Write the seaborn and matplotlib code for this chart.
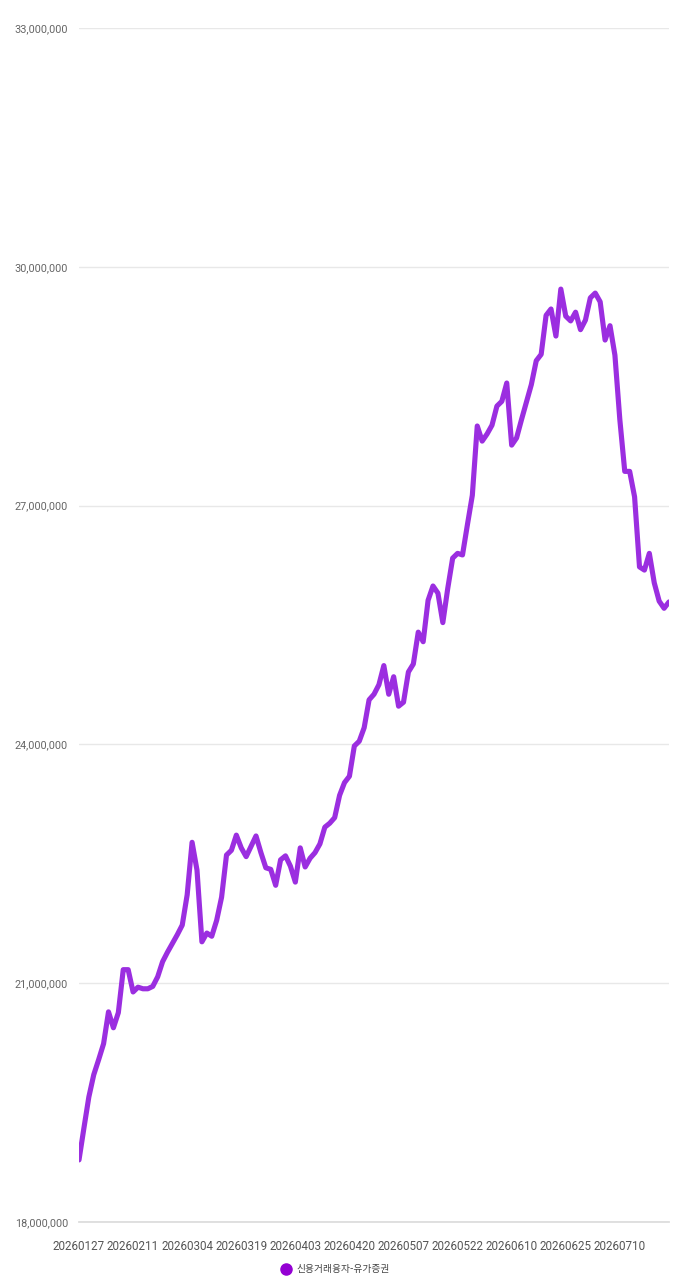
import matplotlib
matplotlib.use("Agg")
import matplotlib.pyplot as plt
from matplotlib.lines import Line2D
from matplotlib.ticker import FuncFormatter
import numpy as np
import pandas as pd
import seaborn as sns

# 신용거래융자-유가증권 잔고 (백만 원 단위로 읽음), 영업일별
series_name = "신용거래융자-유가증권"
balance_m = [
    18.78, 19.18, 19.57, 19.85, 20.04, 20.24, 20.64, 20.44, 20.63, 21.17,
    21.17, 20.89, 20.95, 20.93, 20.93, 20.96, 21.08, 21.27, 21.39, 21.50,
    21.61, 21.73, 22.11, 22.77, 22.42, 21.52, 21.63, 21.59, 21.79, 22.08,
    22.61, 22.67, 22.86, 22.70, 22.59, 22.72, 22.85, 22.64, 22.45, 22.43,
    22.23, 22.55, 22.60, 22.47, 22.27, 22.70, 22.46, 22.57, 22.64, 22.75,
    22.96, 23.01, 23.08, 23.36, 23.52, 23.60, 23.98, 24.04, 24.21, 24.56,
    24.63, 24.75, 24.99, 24.63, 24.85, 24.48, 24.53, 24.91, 25.01, 25.41,
    25.29, 25.81, 25.99, 25.90, 25.53, 25.96, 26.34, 26.40, 26.38, 26.76,
    27.13, 28.00, 27.81, 27.90, 28.01, 28.25, 28.31, 28.54, 27.76, 27.85,
    28.08, 28.30, 28.52, 28.82, 28.90, 29.39, 29.47, 29.13, 29.72, 29.38,
    29.32, 29.43, 29.21, 29.33, 29.61, 29.67, 29.56, 29.08, 29.26, 28.89,
    28.08, 27.43, 27.43, 27.11, 26.23, 26.19, 26.40, 26.03, 25.80, 25.71,
    25.79,
]
tick_labels = [
    "20260127", "20260211", "20260304", "20260319", "20260403",
    "20260420", "20260507", "20260522", "20260610", "20260625", "20260710",
]
label_step = 11   # labels every 11 trading days
tick_step = 12    # small axis ticks

df = pd.DataFrame({"idx": np.arange(len(balance_m)),
                   "value": np.array(balance_m) * 1_000_000})

sns.set_theme(style="white")
plt.rcParams["font.family"] = ["Roboto", "Noto Sans CJK KR", "DejaVu Sans"]

line_color = "#9b2ee0"

fig = plt.figure(figsize=(6.79, 12.8), dpi=100)
ax = fig.add_axes([79 / 679, 1 - 1222 / 1280, 590 / 679, (1222 - 28) / 1280])

sns.lineplot(data=df, x="idx", y="value", ax=ax, color=line_color,
             linewidth=3.7, legend=False)

ax.set_xlim(0, len(balance_m) - 1)
ax.set_ylim(18_000_000, 33_000_000)
ax.set_yticks(np.arange(18_000_000, 33_000_001, 3_000_000))
ax.yaxis.set_major_formatter(FuncFormatter(lambda v, _: f"{v:,.0f}"))

label_pos = np.arange(len(tick_labels)) * label_step
ax.set_xticks(label_pos)
ax.set_xticklabels(tick_labels)
ax.set_xticks(np.arange(0, len(balance_m), tick_step), minor=True)

ax.grid(axis="y", color="#e8e8e8", linewidth=1.0)
ax.grid(axis="x", visible=False)
for s in ["left", "right", "top"]:
    ax.spines[s].set_visible(False)
ax.spines["bottom"].set_color("#dddddd")
ax.spines["bottom"].set_linewidth(1.3)

ax.tick_params(axis="y", length=0, pad=8, labelsize=7.8, labelcolor="#666666")
ax.tick_params(axis="x", which="major", length=0, pad=13,
               labelsize=8.4, labelcolor="#555555")
ax.tick_params(axis="x", which="minor", length=5, width=1, color="#dddddd")
ax.set_xlabel("")
ax.set_ylabel("")

handle = Line2D([], [], linestyle="none", marker="o", markersize=8,
                markerfacecolor="#9400d3", markeredgecolor="#9400d3")
fig.legend([handle], [series_name], loc="center",
           bbox_to_anchor=(333 / 679, 1 - 1269 / 1280), frameon=False,
           handletextpad=0.1, labelcolor="#444444",
           prop={"family": ["Noto Sans CJK KR", "DejaVu Sans"], "size": 7.0})

fig.savefig("out.png", dpi=100)
